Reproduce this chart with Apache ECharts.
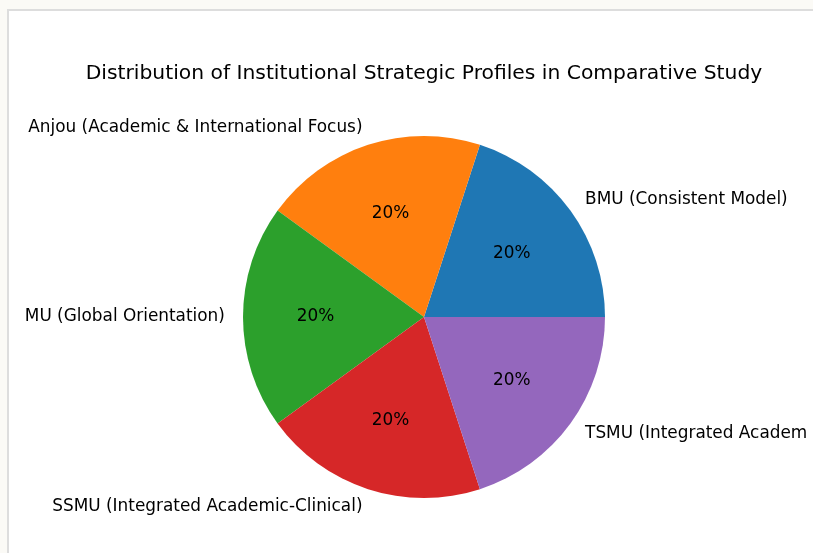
<!DOCTYPE html>
<html>
<head>
<meta charset="utf-8">
<script src="https://cdn.jsdelivr.net/npm/echarts@6/dist/echarts.min.js"></script>
<style>
    body { margin: 0; background: #fbfaf6; overflow: hidden; }
    #frame {
        position: absolute; left: 7px; top: 9px; width: 830px; height: 560px;
        background: #fff;
        border-top: 2px solid #dddddd; border-left: 2px solid #dddddd;
    }
    #clip { position: absolute; left: 0; top: 0; width: 807px; height: 553px; overflow: hidden; }
    #chart { width: 813px; height: 553px; }
</style>
</head>
<body>
<div id="frame"></div>
<div id="clip"><div id="chart"></div></div>
<script>
// 数据
var titleText = 'Distribution of Institutional Strategic Profiles in Comparative Study';
var labels = ['BMU (Consistent Model)', 'Anjou (Academic & International Focus)', 'MU (Global Orientation)',
    'SSMU (Integrated Academic-Clinical)', 'TSMU (Integrated Academic-Clinical)'];
var values = [20, 20, 20, 20, 20];
var colors = ['#1f77b4', '#ff7f0e', '#2ca02c', '#d62728', '#9467bd'];

var font = 'DejaVu Sans';
var R = 181;

var chart = echarts.init(document.getElementById('chart'));

var pieData = labels.map(function (name, i) {
    return { name: name, value: values[i] };
});

var option = {
    animation: false,
    color: colors,
    graphic: [{
        type: 'text',
        x: 424, y: 74,
        style: {
            text: titleText,
            font: '20.3px "DejaVu Sans"',
            fill: '#000',
            textAlign: 'center',
            textVerticalAlign: 'middle'
        }
    }],
    series: [
        {
            // 外部名称标签
            type: 'pie',
            center: [424, 317],
            radius: [0, R],
            startAngle: 0,
            clockwise: false,
            avoidLabelOverlap: false,
            silent: true,
            itemStyle: { borderWidth: 0 },
            label: {
                show: true,
                position: 'outside',
                distanceToLabelLine: 0,
                padding: [3, 0, 0, 0],
                fontFamily: font,
                fontSize: 16.9,
                color: '#000',
                formatter: '{b}'
            },
            labelLine: { show: false, length: R * 0.1, length2: 0 },
            data: pieData
        },
        {
            // 百分比标签
            type: 'pie',
            center: [424, 317],
            radius: [0, R * 1.165],
            startAngle: 0,
            clockwise: false,
            avoidLabelOverlap: false,
            silent: true,
            z: 3,
            itemStyle: { color: 'rgba(0,0,0,0)', borderWidth: 0 },
            label: {
                show: true,
                position: 'inside',
                padding: [3, 0, 0, 0],
                fontFamily: font,
                fontSize: 16.9,
                color: '#000',
                formatter: function (p) { return Math.round(p.percent) + '%'; }
            },
            labelLine: { show: false },
            data: pieData
        }
    ]
};
chart.setOption(option);
</script>
</body>
</html>
